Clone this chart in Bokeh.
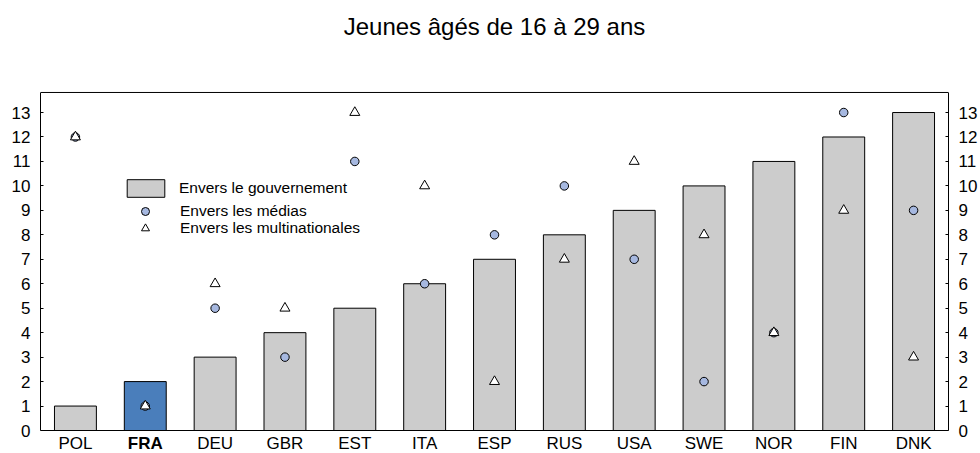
from bokeh.plotting import figure
from bokeh.models import (ColumnDataSource, FactorRange, Range1d, LinearAxis,
                          FixedTicker, Legend, LegendItem, Span)
from bokeh.core.properties import value
from bokeh.embed import file_html
from bokeh.resources import INLINE

# ---- data ----
countries = ["POL", "FRA", "DEU", "GBR", "EST", "ITA", "ESP", "RUS", "USA", "SWE", "NOR", "FIN", "DNK"]
gouvernement = [1, 2, 3, 4, 5, 6, 7, 8, 9, 10, 11, 12, 13]
medias = [12, 1, 5, 3, 11, 6, 8, 10, 7, 2, 4, 13, 9]
multinationales = [12, 1, 6, 5, 13, 10, 2, 7, 11, 8, 4, 9, 3]
y_ticks = list(range(0, 14))
highlight = "FRA"
title_text = "Jeunes âgés de 16 à 29 ans"
labels = ["Envers le gouvernement", "Envers les médias", "Envers les multinationales"]

FONT = "Liberation Sans"
GREY = "#CCCCCC"
BLUE = "#4A7EBB"
LIGHT = "#A6B8E0"
Y_TOP = 13.82          # top of the plotting box (value units)

src = ColumnDataSource(dict(
    country=countries, gov=gouvernement, med=medias, mult=multinationales,
    color=[BLUE if c == highlight else GREY for c in countries],
    style=["bold" if c == highlight else "normal" for c in countries],
    zero=[0] * len(countries),
))

# the frame covers the whole canvas height so that title and category labels
# (drawn as text glyphs) are not clipped; the visible box is drawn with spans/axes
p = figure(x_range=FactorRange(*countries), y_range=Range1d(-0.94, 17.58),
           width=980, height=453, output_backend="svg", toolbar_location=None,
           x_axis_location=None, y_axis_location=None, title=None,
           min_border_left=40, min_border_right=30, min_border_top=0, min_border_bottom=0)

bars = p.vbar(x="country", top="gov", width=0.6, source=src, fill_color="color",
              line_color="black", line_width=1)
circ = p.scatter(x="country", y="med", source=src, marker="circle", size=8.5,
                 fill_color=LIGHT, line_color="black", line_width=1)
tri = p.scatter(x="country", y="mult", source=src, marker="triangle", size=10,
                fill_color="white", line_color="black", line_width=1)

p.xgrid.visible = False
p.ygrid.visible = False
p.outline_line_color = None
p.background_fill_color = "white"
p.border_fill_color = "white"

# x axis line and top border
p.add_layout(Span(location=0, dimension="width", line_color="black", line_width=1))
p.add_layout(Span(location=Y_TOP, dimension="width", line_color="black", line_width=1))

def make_y(side):
    ax = LinearAxis(bounds=(0, Y_TOP))
    ax.ticker = FixedTicker(ticks=y_ticks)
    ax.axis_line_color = "black"
    ax.major_tick_in = 3
    ax.major_tick_out = 0
    ax.major_tick_line_color = "black"
    ax.minor_tick_line_color = None
    ax.major_label_standoff = 10
    ax.major_label_text_font = FONT
    ax.major_label_text_font_size = "17px"
    ax.major_label_text_color = "black"
    p.add_layout(ax, side)

make_y("left")
make_y("right")

# category labels (highlighted one in bold)
p.text(x="country", y="zero", text="country", source=src, text_align="center",
       text_baseline="top", y_offset=3, text_font=value(FONT), text_font_size=value("17px"),
       text_font_style="style", text_color="black")

# title
p.text(x=[len(countries) / 2], y=[16.5], text=[title_text], text_align="center",
       text_baseline="alphabetic", text_font=value(FONT), text_font_size=value("24px"),
       text_color="black")

# legends (one per entry to control row positions)
common = dict(spacing=0, padding=0, margin=0, border_line_color=None,
              background_fill_alpha=0, label_text_font=FONT,
              label_text_font_size="15.5px", label_text_color="black")
legA = Legend(items=[LegendItem(label=labels[0], renderers=[bars], index=0)],
              location=(82, 254), glyph_width=47, glyph_height=22, label_height=22,
              label_standoff=10, **common)
legB = Legend(items=[LegendItem(label=labels[1], renderers=[circ], index=0)],
              location=(94, 232), glyph_width=22, glyph_height=20, label_height=18,
              label_standoff=24, **common)
legC = Legend(items=[LegendItem(label=labels[2], renderers=[tri], index=0)],
              location=(94, 215), glyph_width=22, glyph_height=20, label_height=18,
              label_standoff=24, **common)
p.add_layout(legA)
p.add_layout(legB)
p.add_layout(legC)

open("out.html", "w").write(file_html(p, INLINE))
